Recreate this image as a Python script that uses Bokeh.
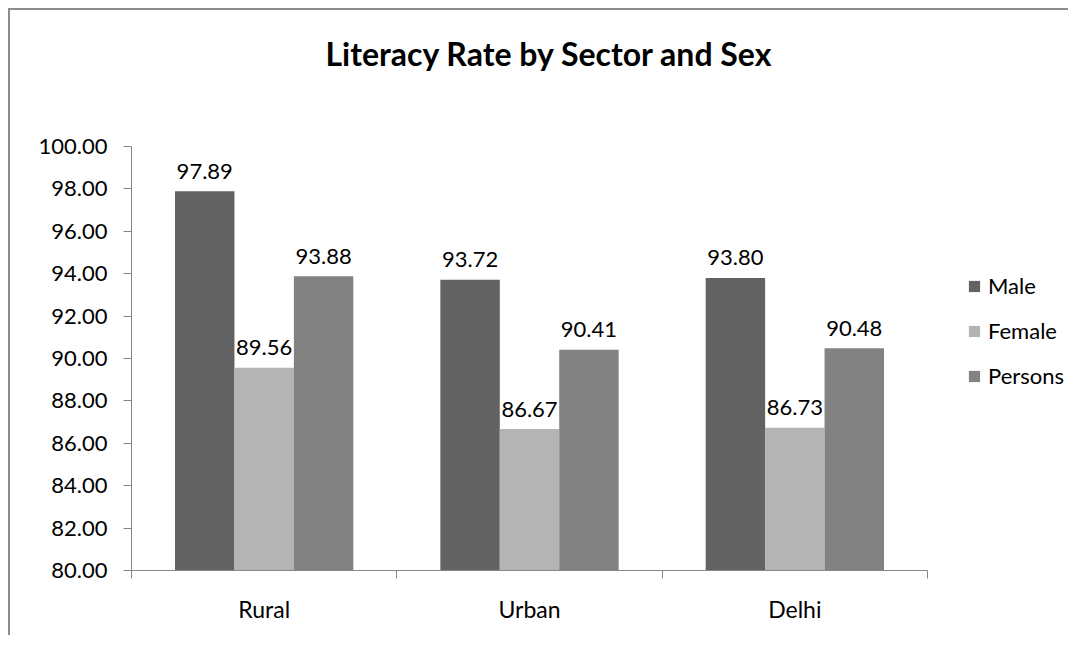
import numpy as np
from bokeh.plotting import figure
from bokeh.models import ColumnDataSource, FixedTicker, Legend, LegendItem, Range1d, Title
from bokeh.core.properties import value
from bokeh.embed import file_html
from bokeh.resources import INLINE

# ---- data ----
categories = ["Rural", "Urban", "Delhi"]
series = ["Male", "Female", "Persons"]
male = [97.89, 93.72, 93.80]
female = [89.56, 86.67, 86.73]
persons = [93.88, 90.41, 90.48]
y_ticks = [80, 82, 84, 86, 88, 90, 92, 94, 96, 98, 100]
title_text = "Literacy Rate by Sector and Sex"

colors = ["#626262", "#b4b4b4", "#828282"]
FONT = "Lato"
AXIS_COLOR = "#868686"

# layout (pixels)
W, H = 1060, 627
BL, BR, BT, BB = 121, 6, 0, 67
AXIS_PX = 796          # pixel width covered by the three categories
frame_w = W - BL - BR
x_end = len(categories) * frame_w / AXIS_PX   # room on the right for the legend

p = figure(width=W, height=H,
           x_range=Range1d(0, x_end), y_range=Range1d(80, 100),
           output_backend="svg", toolbar_location=None,
           min_border_left=BL, min_border_right=BR,
           min_border_top=BT, min_border_bottom=BB)
p.styles = {"margin-left": "8px", "margin-top": "8px",
            "border-top": "2px solid #8c8c8c", "border-left": "2px solid #8c8c8c"}
p.outline_line_color = None
p.xgrid.grid_line_color = None
p.ygrid.grid_line_color = None
p.background_fill_color = "white"
p.border_fill_color = "white"

# spacer between frame and title, then the title itself (outermost)
spacer = Title(text=" ", text_font_size="10px", standoff=40)
p.add_layout(spacer, "above")
p.title = Title(text=title_text, align="left", offset=194, standoff=42,
                text_font=FONT, text_font_size="32px", text_font_style="bold",
                text_color="#000000")

centers = np.arange(len(categories)) + 0.5
offsets = [-0.224, 0.0, 0.224]
bar_w = 0.224
vals = [male, female, persons]
items = []
sources = []
for s, v, off, c in zip(series, vals, offsets, colors):
    src = ColumnDataSource(dict(x=centers + off, top=v,
                                lab=["%.2f" % t for t in v]))
    sources.append(src)
    r = p.vbar(x="x", top="top", bottom=80, width=bar_w, source=src,
               fill_color=c, line_color=None)
    items.append(LegendItem(label=s, renderers=[r]))
for src in sources:
    p.text(x="x", y="top", text="lab", source=src, text_align="center",
           text_baseline="alphabetic", y_offset=-20,
           text_font=value(FONT), text_font_size="22px", text_color="#000000")

legend = Legend(items=items, location=(836, 181), border_line_color=None,
                background_fill_alpha=0, padding=0, margin=0,
                glyph_width=14, glyph_height=14, label_standoff=7,
                label_text_font=FONT, label_text_font_size="22px",
                label_height=20, spacing=18, label_text_color="#000000")
p.add_layout(legend, "center")

# y axis
ya = p.yaxis[0]
ya.ticker = FixedTicker(ticks=y_ticks)
ya.major_label_overrides = {t: "%.2f" % t for t in y_ticks}
ya.axis_line_color = AXIS_COLOR
ya.major_tick_line_color = AXIS_COLOR
ya.major_tick_out = 8
ya.major_tick_in = 0
ya.minor_tick_line_color = None
ya.major_label_standoff = 16
ya.major_label_text_font = FONT
ya.major_label_text_font_size = "22px"
ya.major_label_text_color = "#000000"

# x axis: labels at centres, ticks at boundaries, line only under the categories
xa = p.xaxis[0]
xa.bounds = (0, len(categories))
xa.ticker = FixedTicker(ticks=list(centers),
                        minor_ticks=list(range(len(categories) + 1)))
xa.major_label_overrides = {float(c): n for c, n in zip(centers, categories)}
xa.axis_line_color = AXIS_COLOR
xa.major_tick_line_color = None
xa.major_tick_out = 0
xa.major_tick_in = 0
xa.minor_tick_line_color = AXIS_COLOR
xa.minor_tick_out = 8
xa.minor_tick_in = 0
xa.major_label_standoff = 16
xa.major_label_text_font = FONT
xa.major_label_text_font_size = "23px"
xa.major_label_text_color = "#000000"

open("out.html", "w").write(file_html(p, INLINE))
